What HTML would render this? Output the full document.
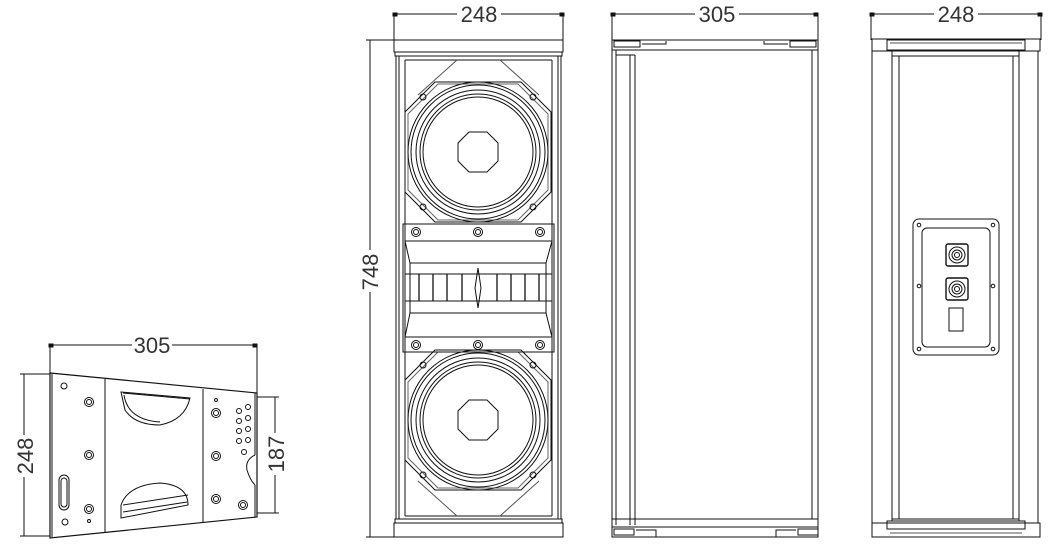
<!DOCTYPE html>
<html><head><meta charset="utf-8"><style>
html,body{margin:0;padding:0;background:#fff;width:1057px;height:555px;overflow:hidden}
svg{display:block}
text{font-family:"Liberation Sans",sans-serif;font-size:22px;fill:#333;stroke:none}
</style></head><body>
<svg width="1057" height="555" viewBox="0 0 1057 555" xmlns="http://www.w3.org/2000/svg" fill="none" stroke="#111" stroke-width="1">
<defs>
<g id="woof">
<polygon points="-43,-70 43,-70 73,-40 73,40 43,70 -43,70 -73,40 -73,-40"/>
<polygon points="-40,-68 40,-68 70,-38 70,38 40,68 -40,68 -70,38 -70,-38" stroke="#666"/>
<circle r="70"/><circle r="67"/><circle r="62"/><circle r="58"/><circle r="55"/>
<polygon points="-9,-20 9,-20 20,-9 20,9 9,20 -9,20 -20,9 -20,-9"/>
<circle cx="-55" cy="-55" r="3"/><circle cx="55" cy="-55" r="3"/><circle cx="-55" cy="55" r="3"/><circle cx="55" cy="55" r="3"/>
</g>
<g id="scr"><circle r="4.5"/><circle r="2.5"/></g>
</defs>

<!-- ===== bracket ===== -->
<line x1="50" y1="345" x2="257" y2="345"/><rect x="49" y="344" width="4" height="3" fill="#111"/><rect x="253" y="344" width="4" height="3" fill="#111"/>
<line x1="50" y1="345" x2="50" y2="373"/><line x1="257" y1="345" x2="257" y2="393"/>
<rect x="132" y="336" width="40" height="18" fill="#fff" stroke="none"/>
<text x="152" y="353" text-anchor="middle">305</text>
<line x1="24" y1="374" x2="24" y2="536"/><line x1="20" y1="374" x2="50" y2="374"/><line x1="20" y1="536" x2="50" y2="536"/>
<rect x="14" y="435" width="20" height="42" fill="#fff" stroke="none"/>
<text transform="translate(33,456) rotate(-90)" text-anchor="middle">248</text>
<line x1="275" y1="397" x2="275" y2="513"/><line x1="257" y1="397" x2="279" y2="397"/><line x1="257" y1="513" x2="279" y2="513"/>
<rect x="266" y="433" width="20" height="42" fill="#fff" stroke="none"/>
<text transform="translate(284,454) rotate(-90)" text-anchor="middle">187</text>
<polygon points="50,373 257,393 257,517 50,538" stroke-width="1.2"/>
<line x1="52" y1="374" x2="52" y2="537"/>
<line x1="105" y1="379" x2="105" y2="532"/><line x1="203" y1="389" x2="203" y2="523"/>
<line x1="255" y1="393" x2="255" y2="455"/><path d="M255 455 Q245 460 247 470 Q250 480 255 485"/><line x1="255" y1="485" x2="255" y2="517"/>
<circle cx="64" cy="386" r="3"/><circle cx="65" cy="522" r="3"/><circle cx="89" cy="521" r="1.5"/>
<rect x="59" y="475" width="10" height="35" rx="5"/><rect x="61" y="478" width="6" height="29" rx="3"/>
<use href="#scr" x="89" y="402"/><use href="#scr" x="89" y="455"/><use href="#scr" x="89" y="509"/>
<use href="#scr" x="216" y="413"/><use href="#scr" x="216" y="456"/><use href="#scr" x="216" y="499"/>
<circle cx="216" cy="400" r="1.5"/>
<circle cx="239" cy="411" r="2.5"/><circle cx="248" cy="407" r="2.5"/><circle cx="239" cy="421" r="2.5"/><circle cx="248" cy="418" r="2.5"/><circle cx="239" cy="431" r="2.5"/><circle cx="248" cy="429" r="2.5"/><circle cx="239" cy="441" r="2.5"/><circle cx="248" cy="440" r="2.5"/><circle cx="244" cy="452" r="2.5"/>
<use href="#scr" x="243" y="505"/>
<path d="M121 392 L190 398 Q185 420 160 425 Q135 425 125 410 Z"/><path d="M123 393 L190 399"/><path d="M124 395 Q128 420 160 422"/>
<path d="M121 518 L188 505 Q188 485 160 483 Q128 485 121 505 Z"/><path d="M123 505 L188 495"/><path d="M123 512 L187 502"/>

<!-- ===== front view ===== -->
<line x1="394" y1="14" x2="563" y2="14"/><rect x="393" y="13" width="4" height="3" fill="#111"/><rect x="560" y="13" width="4" height="3" fill="#111"/>
<line x1="394" y1="14" x2="394" y2="40"/><line x1="563" y1="14" x2="563" y2="40"/>
<rect x="457" y="5" width="44" height="18" fill="#fff" stroke="none"/>
<text x="479" y="22" text-anchor="middle">248</text>
<line x1="370" y1="40" x2="370" y2="537"/><line x1="366" y1="40" x2="394" y2="40"/><line x1="366" y1="537" x2="394" y2="537"/>
<rect x="360" y="250" width="20" height="42" fill="#fff" stroke="none"/>
<text transform="translate(378,272) rotate(-90)" text-anchor="middle">748</text>
<rect x="394" y="40" width="169" height="12"/><rect x="395" y="52" width="167" height="4"/>
<rect x="394" y="523" width="169" height="14"/><rect x="395" y="519" width="167" height="4"/>
<line x1="396" y1="56" x2="396" y2="519"/><line x1="399" y1="56" x2="399" y2="519"/><line x1="405" y1="60" x2="405" y2="516"/>
<line x1="561" y1="56" x2="561" y2="519"/><line x1="558" y1="56" x2="558" y2="519"/><line x1="552" y1="60" x2="552" y2="516"/>
<line x1="405" y1="60" x2="552" y2="60"/><line x1="405" y1="516" x2="552" y2="516"/>
<line x1="457" y1="60" x2="418" y2="95" stroke="#555"/><line x1="500" y1="60" x2="539" y2="95" stroke="#555"/>
<line x1="457" y1="516" x2="418" y2="481" stroke="#555"/><line x1="500" y1="516" x2="539" y2="481" stroke="#555"/>
<use href="#woof" x="478" y="152"/><use href="#woof" x="478" y="420"/>
<rect x="403" y="224" width="151" height="128"/>
<use href="#scr" x="416" y="232"/><use href="#scr" x="478" y="232"/><use href="#scr" x="540" y="232"/>
<use href="#scr" x="416" y="345"/><use href="#scr" x="478" y="345"/><use href="#scr" x="540" y="345"/>
<polygon points="405,241 552,241 546,263 410,263" />
<polygon points="405,337 552,337 546,313 410,313" />
<line x1="405" y1="241" x2="405" y2="337"/><line x1="552" y1="241" x2="552" y2="337"/>
<line x1="410" y1="263" x2="410" y2="313"/><line x1="546" y1="263" x2="546" y2="313"/>
<rect x="405" y="274" width="147" height="27"/>
<g stroke-width="1.3">
<line x1="419" y1="274" x2="419" y2="301"/><line x1="433" y1="274" x2="433" y2="301"/><line x1="447" y1="274" x2="447" y2="301"/><line x1="462" y1="274" x2="462" y2="301"/>
<line x1="497" y1="274" x2="497" y2="301"/><line x1="511" y1="274" x2="511" y2="301"/><line x1="525" y1="274" x2="525" y2="301"/><line x1="539" y1="274" x2="539" y2="301"/>
</g>
<path d="M478 268 L481 288 L478 308 L475 288 Z"/>

<!-- ===== side view ===== -->
<line x1="612" y1="14" x2="818" y2="14"/><rect x="611" y="13" width="4" height="3" fill="#111"/><rect x="814" y="13" width="4" height="3" fill="#111"/>
<line x1="612" y1="14" x2="612" y2="40"/><line x1="818" y1="14" x2="818" y2="40"/>
<rect x="695" y="5" width="44" height="18" fill="#fff" stroke="none"/>
<text x="717" y="22" text-anchor="middle">305</text>
<rect x="612" y="40" width="206" height="10"/>
<rect x="614" y="41" width="26" height="6"/><polyline points="642,44 666,44 666,41"/>
<rect x="790" y="41" width="26" height="6"/><polyline points="788,44 764,44 764,41"/>
<line x1="612" y1="50" x2="612" y2="537"/><line x1="616" y1="50" x2="616" y2="525"/><line x1="630" y1="55" x2="630" y2="525"/><line x1="635" y1="55" x2="635" y2="525"/>
<line x1="616" y1="55" x2="635" y2="55"/>
<line x1="818" y1="50" x2="818" y2="537"/><line x1="812" y1="50" x2="812" y2="519"/>
<line x1="612" y1="519" x2="818" y2="519"/>
<rect x="612" y="527" width="206" height="10"/>
<rect x="614" y="529" width="20" height="6"/><polyline points="636,530 656,530 656,537"/>
<rect x="798" y="529" width="20" height="6"/><polyline points="796,530 776,530 776,537"/>

<!-- ===== rear view ===== -->
<line x1="871" y1="14" x2="1041" y2="14"/><rect x="870" y="13" width="4" height="3" fill="#111"/><rect x="1038" y="13" width="4" height="3" fill="#111"/>
<line x1="871" y1="14" x2="871" y2="40"/><line x1="1041" y1="14" x2="1041" y2="40"/>
<rect x="934" y="5" width="44" height="18" fill="#fff" stroke="none"/>
<text x="956" y="22" text-anchor="middle">248</text>
<rect x="872" y="39" width="168" height="12"/><rect x="887" y="40" width="138" height="10"/>
<line x1="890" y1="43" x2="1022" y2="43" stroke="#555"/>
<rect x="872" y="523" width="168" height="14"/><rect x="887" y="521" width="138" height="8"/>
<line x1="890" y1="533" x2="1022" y2="533" stroke="#555"/>
<line x1="872" y1="51" x2="872" y2="523"/><line x1="1038" y1="51" x2="1038" y2="523"/>
<line x1="892" y1="51" x2="892" y2="521"/><line x1="899" y1="56" x2="899" y2="519"/>
<line x1="1013" y1="56" x2="1013" y2="519"/><line x1="1019" y1="51" x2="1019" y2="521"/>
<line x1="892" y1="56" x2="1019" y2="56"/><line x1="892" y1="519" x2="1019" y2="519"/>
<rect x="913" y="219" width="86" height="136" rx="6"/>
<rect x="922" y="228" width="68" height="119" rx="5"/>
<circle cx="919" cy="225" r="1.8"/><circle cx="993" cy="225" r="1.8"/><circle cx="919" cy="286" r="1.8"/><circle cx="993" cy="286" r="1.8"/><circle cx="919" cy="349" r="1.8"/><circle cx="993" cy="349" r="1.8"/>
<rect x="946" y="244" width="22" height="22" rx="2" stroke-width="1.4"/><circle cx="957" cy="255" r="8"/><circle cx="957" cy="255" r="5"/><circle cx="957" cy="255" r="2.5"/>
<rect x="946" y="278" width="22" height="22" rx="2" stroke-width="1.4"/><circle cx="957" cy="289" r="8"/><circle cx="957" cy="289" r="5"/><circle cx="957" cy="289" r="2.5"/>
<rect x="949" y="308" width="14" height="23"/>
</svg>
</body></html>
